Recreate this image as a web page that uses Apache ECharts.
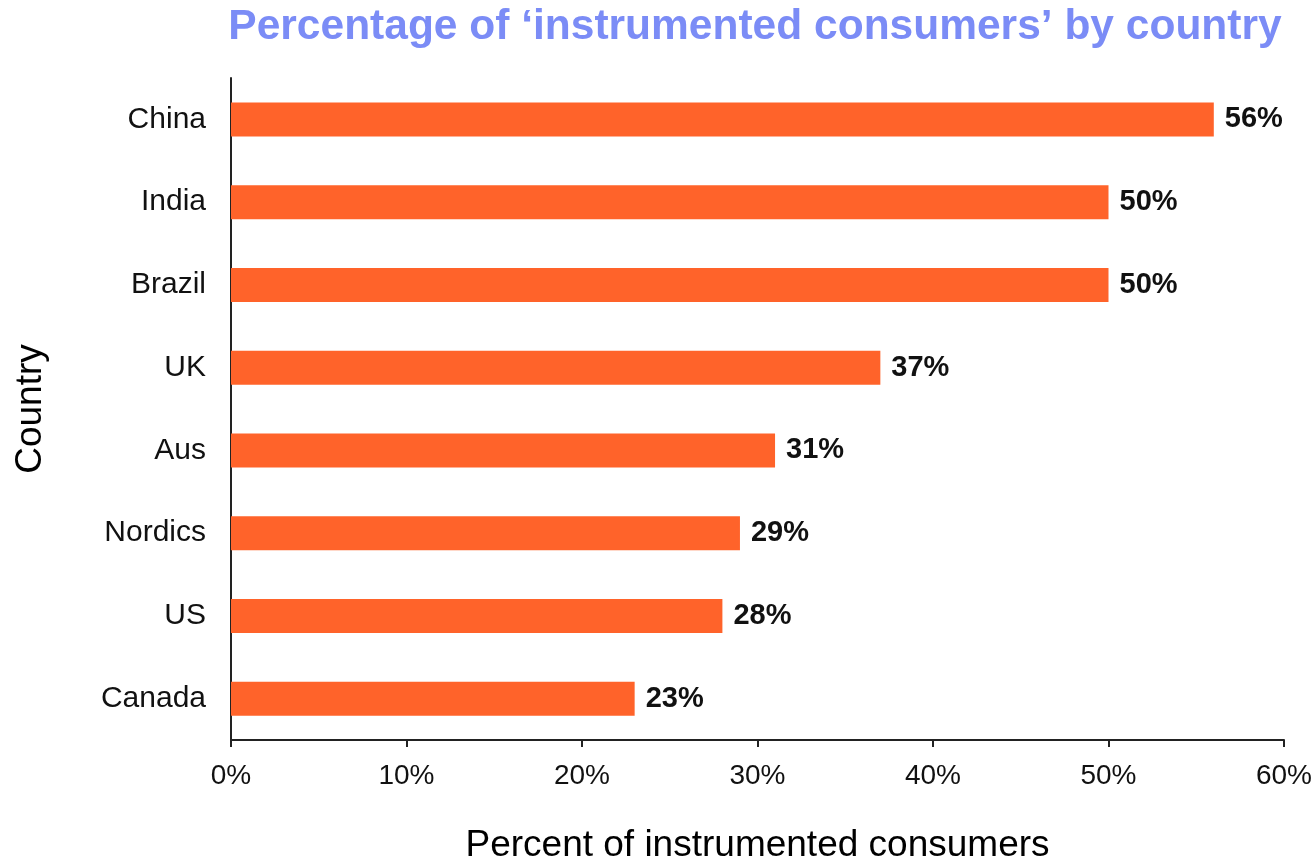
<!DOCTYPE html>
<html>
<head>
<meta charset="utf-8">
<script src="https://cdn.jsdelivr.net/npm/echarts@6/dist/echarts.min.js"></script>
<style>
  html, body { margin: 0; padding: 0; background: #fff; }
  #chart { width: 1315px; height: 859px; }
</style>
</head>
<body>
<div id="chart"></div>
<script>
// Share of instrumented consumers per country (percent)
const countries = ['China', 'India', 'Brazil', 'UK', 'Aus', 'Nordics', 'US', 'Canada'];
const percentages = [56, 50, 50, 37, 31, 29, 28, 23];
const xTicks = [0, 10, 20, 30, 40, 50, 60];

const FONT = '"Liberation Sans", Arial, sans-serif';

const chart = echarts.init(document.getElementById('chart'), null, { renderer: 'canvas' });

chart.setOption({
  animation: false,
  textStyle: { fontFamily: FONT },
  title: {
    text: 'Percentage of \u2018instrumented consumers\u2019 by country',
    left: 750,
    textAlign: 'center',
    top: 1,
    textStyle: { fontFamily: FONT, fontSize: 42.5, fontWeight: 'bold', color: '#7b8cf6' }
  },
  grid: {
    left: 231, right: 31, top: 78, bottom: 119,
    containLabel: false,
    outerBoundsMode: 'none'
  },
  xAxis: {
    type: 'value',
    min: xTicks[0],
    max: xTicks[xTicks.length - 1],
    interval: 10,
    name: 'Percent of instrumented consumers',
    nameLocation: 'middle',
    nameGap: 87,
    nameTextStyle: { fontFamily: FONT, fontSize: 37, color: '#000' },
    axisLine: { show: true, lineStyle: { color: '#222', width: 2 } },
    axisTick: { show: true, length: 7, lineStyle: { color: '#222', width: 2 } },
    axisLabel: { fontFamily: FONT, fontSize: 28, color: '#111', margin: 22, formatter: '{value}%' },
    splitLine: { show: false }
  },
  yAxis: {
    type: 'category',
    data: countries,
    inverse: true,
    name: 'Country',
    nameLocation: 'middle',
    nameGap: 182,
    nameRotate: 90,
    nameTextStyle: { fontFamily: FONT, fontSize: 37, color: '#000' },
    axisLine: { show: true, lineStyle: { color: '#222', width: 2 } },
    axisTick: { show: false },
    axisLabel: { fontFamily: FONT, fontSize: 30, color: '#111', margin: 25 }
  },
  series: [{
    type: 'bar',
    data: percentages,
    barWidth: 34,
    itemStyle: { color: '#ff632a' },
    label: {
      show: true,
      position: 'right',
      distance: 11,
      formatter: '{c}%',
      fontFamily: FONT,
      fontSize: 29,
      fontWeight: 'bold',
      color: '#111'
    }
  }]
});
</script>
</body>
</html>
